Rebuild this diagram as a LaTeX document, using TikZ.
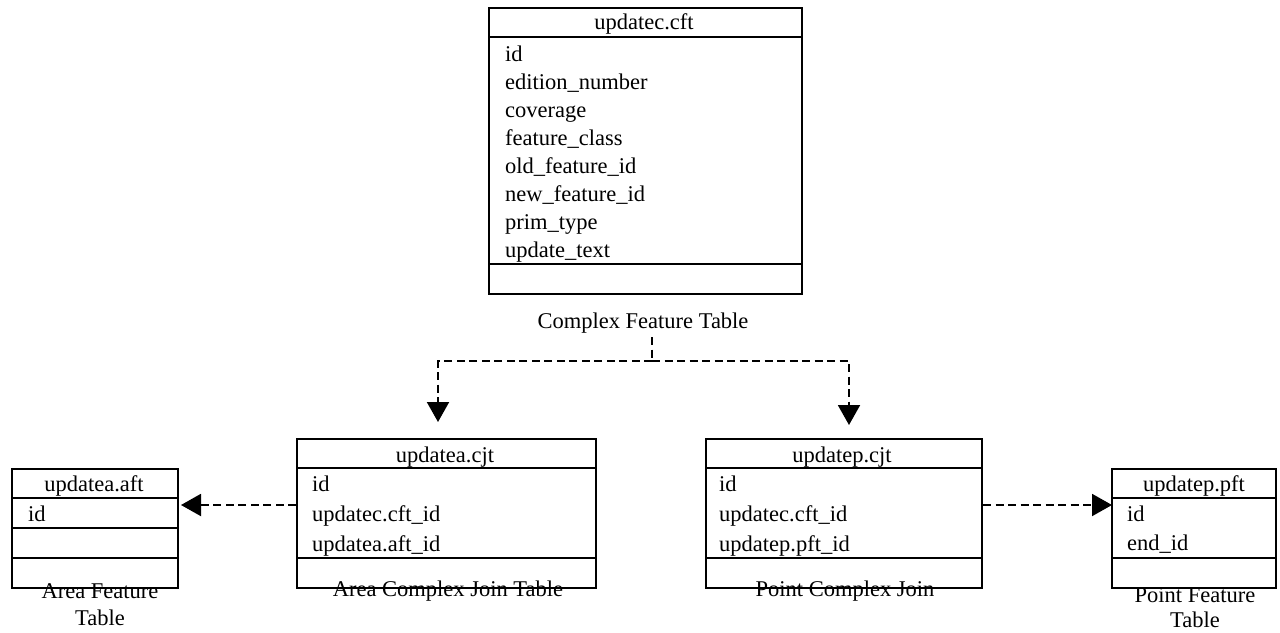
\documentclass[tikz,border=0pt]{standalone}
\usepackage{fontspec}
\setmainfont{Liberation Serif}
\usetikzlibrary{arrows.meta}
\newcommand{\tfs}{\fontsize{22.5}{27}\selectfont}
\tikzset{
  tbl/.style={draw, line width=2pt, inner sep=0pt, anchor=north west},
  rowtxt/.style={font=\tfs, inner sep=0pt, anchor=base west},
  hdrtxt/.style={font=\tfs, inner sep=0pt, anchor=base},
  sepline/.style={line width=2pt},
  dashline/.style={line width=2pt, dash pattern=on 8pt off 4.5pt},
  conn/.style={dashline, -{Triangle[length=20pt,width=22pt]}}
}
\begin{document}
\begin{tikzpicture}[x=1pt,y=-1pt]
\useasboundingbox[fill=white] (0,0) rectangle (1280,632);

% ---------- Complex Feature Table ----------
\node[tbl, minimum width=313pt, minimum height=286pt] (cft) at (488,7) {};
\draw[sepline] (cft.west |- 0,37) -- (cft.east |- 0,37);
\draw[sepline] (cft.west |- 0,264) -- (cft.east |- 0,264);
\node[hdrtxt] (cfth) at (644,29) {updatec.cft};
\node[rowtxt] (cft1) at (505,61) {id};
\node[rowtxt] (cft2) at (505,89) {edition\_number};
\node[rowtxt] (cft3) at (505,117) {coverage};
\node[rowtxt] (cft4) at (505,145) {feature\_class};
\node[rowtxt] (cft5) at (505,173) {old\_feature\_id};
\node[rowtxt] (cft6) at (505,201) {new\_feature\_id};
\node[rowtxt] (cft7) at (505,229) {prim\_type};
\node[rowtxt] (cft8) at (505,257) {update\_text};
\node[hdrtxt] (cftcap) at (643,328) {Complex Feature Table};

% ---------- Area Complex Join Table ----------
\node[tbl, minimum width=299pt, minimum height=149pt] (acjt) at (296,438) {};
\draw[sepline] (acjt.west |- 0,468) -- (acjt.east |- 0,468);
\draw[sepline] (acjt.west |- 0,558) -- (acjt.east |- 0,558);
\node[hdrtxt] (acjth) at (445,462) {updatea.cjt};
\node[rowtxt] (acjt1) at (312,491) {id};
\node[rowtxt] (acjt2) at (312,521) {updatec.cft\_id};
\node[rowtxt] (acjt3) at (312,551) {updatea.aft\_id};
\node[hdrtxt] (acjtcap) at (448,596) {Area Complex Join Table};

% ---------- Point Complex Join ----------
\node[tbl, minimum width=276pt, minimum height=149pt] (pcjt) at (705,438) {};
\draw[sepline] (pcjt.west |- 0,468) -- (pcjt.east |- 0,468);
\draw[sepline] (pcjt.west |- 0,558) -- (pcjt.east |- 0,558);
\node[hdrtxt] (pcjth) at (842,462) {updatep.cjt};
\node[rowtxt] (pcjt1) at (719,491) {id};
\node[rowtxt] (pcjt2) at (719,521) {updatec.cft\_id};
\node[rowtxt] (pcjt3) at (719,551) {updatep.pft\_id};
\node[hdrtxt] (pcjtcap) at (845,596) {Point Complex Join};

% ---------- Area Feature Table ----------
\node[tbl, minimum width=166pt, minimum height=119pt] (aft) at (11,468) {};
\draw[sepline] (aft.west |- 0,498) -- (aft.east |- 0,498);
\draw[sepline] (aft.west |- 0,528) -- (aft.east |- 0,528);
\draw[sepline] (aft.west |- 0,558) -- (aft.east |- 0,558);
\node[hdrtxt] (afth) at (94,491) {updatea.aft};
\node[rowtxt] (aft1) at (28,521) {id};
\node[hdrtxt] (aftcap1) at (100,598) {Area Feature};
\node[hdrtxt] (aftcap2) at (100,625) {Table};

% ---------- Point Feature Table ----------
\node[tbl, minimum width=164pt, minimum height=119pt] (pft) at (1111,468) {};
\draw[sepline] (pft.west |- 0,498) -- (pft.east |- 0,498);
\draw[sepline] (pft.west |- 0,558) -- (pft.east |- 0,558);
\node[hdrtxt] (pfth) at (1194,491) {updatep.pft};
\node[rowtxt] (pft1) at (1127,521) {id};
\node[rowtxt] (pft2) at (1127,550) {end\_id};
\node[hdrtxt] (pftcap1) at (1195,602) {Point Feature};
\node[hdrtxt] (pftcap2) at (1195,627) {Table};

% ---------- connectors ----------
\coordinate (jn) at (652,361);
\coordinate (tipA) at (438,422);
\coordinate (tipP) at (849,425);
\coordinate (hrow) at (0,505);
\draw[dashline] (jn |- 0,337) -- (jn);
\draw[conn] (jn) -| (tipA);
\draw[conn] (jn) -| (tipP);
\draw[conn] (acjt.west |- hrow) -- ([xshift=2pt]aft.east |- hrow);
\draw[conn] (pcjt.east |- hrow) -- ([xshift=1pt]pft.west |- hrow);
\end{tikzpicture}
\end{document}
